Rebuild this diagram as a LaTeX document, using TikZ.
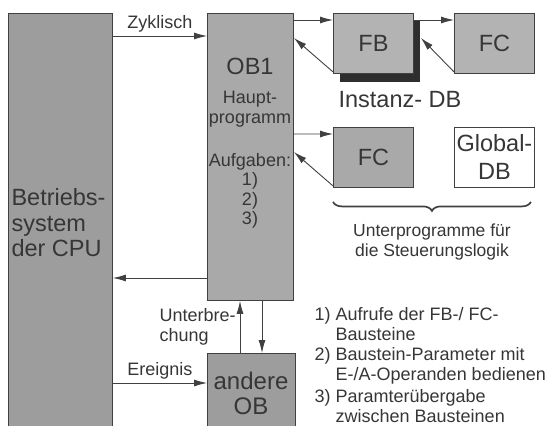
\documentclass[tikz,border=0pt]{standalone}
\usepackage{fontspec}
\setmainfont{Liberation Sans}
\usetikzlibrary{arrows.meta,decorations.pathreplacing}

\definecolor{linegray}{HTML}{404040}
\definecolor{textgray}{HTML}{363636}
\definecolor{bsgray}{HTML}{9D9D9D}
\definecolor{boxgray}{HTML}{A9A9A9}
\definecolor{lightbox}{HTML}{B3B3B3}
\definecolor{shadowgray}{HTML}{2E2E2E}

\tikzset{
    blk/.style={draw=linegray, fill=boxgray, line width=0.9pt, inner sep=0pt, text=textgray, font=\fontsize{23.5}{28}\selectfont, align=center},
    txt/.style={text=textgray, font=\fontsize{18}{20}\selectfont},
    bigtxt/.style={text=textgray, font=\fontsize{23.5}{25.5}\selectfont},
    arr/.style={draw=linegray, line width=0.9pt, -{Latex[length=13pt,width=7pt]}},
    brc/.style={draw=linegray, line width=1.7pt, decorate, decoration={brace, amplitude=9pt, mirror}},
    item/.style={txt, anchor=west, align=left, inner sep=0.5pt}
}

\begin{document}
\begin{tikzpicture}[x=10pt, y=-10pt]
    \useasboundingbox (0,0) rectangle (55.8,42.6);

    % Betriebssystem
    \node[blk, fill=bsgray, minimum width=104pt, minimum height=420pt, anchor=north west] (bs) at (0.8,1.3) {};
    \node[bigtxt, align=left, anchor=west] (bstxt) at (0.8,22.3) {Betriebs-\\system\\der CPU};

    % OB1 (Hauptprogramm)
    \node[blk, minimum width=86pt, minimum height=287pt, anchor=north west] (ob1) at (20.7,1.3) {};
    \node[bigtxt] (ob1name) at (25.0,6.6) {OB1};
    \node[txt, align=center] (hp) at (25.0,10.9) {Haupt-\\programm};
    \node[txt, align=center, font=\fontsize{18}{19.5}\selectfont] (aufg) at (25.0,19.1) {Aufgaben:\\1)\\2)\\3)};

    % andere OB
    \node[blk, fill=bsgray, minimum width=88pt, minimum height=80pt, anchor=north west] (aob) at (20.7,35.3) {};
    \node[blk, draw=none, fill=none, font=\fontsize{24}{25}\selectfont] (aobtxt) at (25.1,39.3) {andere\\OB};

    % Bausteine
    \fill[shadowgray] (34.0,2.0) rectangle (42.0,8.2);
    \node[blk, fill=lightbox, minimum width=80pt, minimum height=60pt, anchor=north west] (fb) at (33.3,1.3) {FB};
    \node[blk, fill=lightbox, minimum width=80pt, minimum height=60pt, anchor=north west] (fc1) at (45.4,1.3) {FC};
    \node[bigtxt] (idb) at (40.0,10.0) {Instanz- DB};
    \node[blk, minimum width=80pt, minimum height=60pt, anchor=north west] (fc2) at (33.3,12.7) {FC};
    \node[blk, fill=white, minimum width=80pt, minimum height=60pt, anchor=north west] (gdb) at (45.4,12.7) {Global-\\DB};

    % Aufrufe und Ruecksprung
    \draw[arr] ([yshift=-7pt]ob1.north east) -- ([yshift=-7pt]fb.north west);
    \draw[arr] ([yshift=2pt]fb.south west) -- ([yshift=-25pt]ob1.north east);
    \draw[arr] ([yshift=-7pt]fb.north east) -- ([yshift=-7pt]fc1.north west);
    \draw[arr] ([yshift=2pt]fc1.south west) -- ([xshift=7pt,yshift=-25pt]fb.north east);
    \draw[arr] ([yshift=-121pt]ob1.north east) -- ([yshift=-7pt]fc2.north west);
    \draw[arr] ([yshift=2pt]fc2.south west) -- ([yshift=-139pt]ob1.north east);

    % Unterprogramme
    \draw[brc] ([yshift=-14pt]fc2.south west) -- ([xshift=-4pt,yshift=-14pt]gdb.south east);
    \node[txt, align=center, font=\fontsize{17.5}{20.5}\selectfont] (uprog) at (43.2,24.2) {Unterprogramme für\\die Steuerungslogik};

    % Betriebssystem <-> OB
    \draw[arr] ([yshift=-23pt]bs.north east) -- ([yshift=-23pt]ob1.north west) node[midway, above, txt] {Zyklisch};
    \draw[arr] ([yshift=-265pt]ob1.north west) -- ([yshift=-265pt]bs.north east);
    \coordinate (ev) at ([yshift=-30pt]aob.north west);
    \draw[arr] (bs.east |- ev) -- (ev) node[midway, above, txt] {Ereignis};
    \draw[arr] ([xshift=33pt]aob.north west) -- ([xshift=33pt]ob1.south west) node[midway, left, txt, align=left, inner sep=4pt] {Unterbre-\\chung};
    \draw[arr] ([xshift=55pt]ob1.south west) -- ([xshift=55pt]aob.north west);

    % Aufgaben im OB1
    \node[item] (item1) at (31.4,32.4) {1) Aufrufe der FB-/ FC-\\\hphantom{1) }Bausteine};
    \node[item] (item2) at (31.4,36.6) {2) Baustein-Parameter mit\\\hphantom{2) }E-/A-Operanden bedienen};
    \node[item] (item3) at (31.4,40.6) {3) Paramterübergabe\\\hphantom{3) }zwischen Bausteinen};
\end{tikzpicture}
\end{document}
